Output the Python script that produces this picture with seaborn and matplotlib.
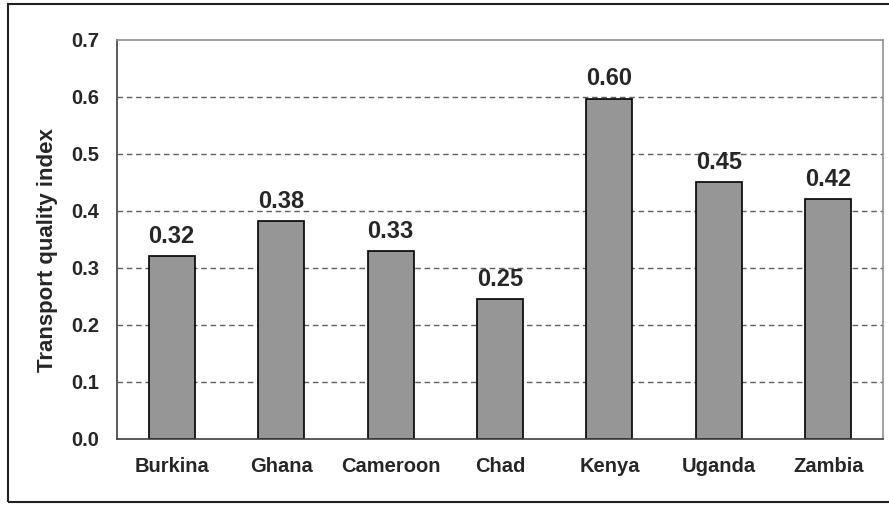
import numpy as np
import pandas as pd
import matplotlib
matplotlib.use("Agg")
import matplotlib.pyplot as plt
import seaborn as sns
from matplotlib.patches import Rectangle

# Data
countries = ["Burkina", "Ghana", "Cameroon", "Chad", "Kenya", "Uganda", "Zambia"]
values = [0.321, 0.382, 0.330, 0.245, 0.597, 0.451, 0.421]
value_labels = ["0.32", "0.38", "0.33", "0.25", "0.60", "0.45", "0.42"]
y_ticks = [0.0, 0.1, 0.2, 0.3, 0.4, 0.5, 0.6, 0.7]

df = pd.DataFrame({"country": countries, "index": values})

sns.set_style("white")
plt.rcParams["font.family"] = ["Liberation Sans", "DejaVu Sans"]
plt.rcParams["font.weight"] = "bold"

fig = plt.figure(figsize=(8.89, 5.05), dpi=100)
ax = fig.add_axes([0.1316, 0.1307, 0.8617, 0.7901])

sns.barplot(data=df, x="country", y="index", color="#969696",
            edgecolor="black", linewidth=1.2, width=0.42, saturation=1, ax=ax)

ax.bar_label(ax.containers[0], labels=value_labels, padding=6,
             fontsize=17, fontweight="bold")

# y axis
ax.set_ylim(0, 0.7)
ax.set_yticks(y_ticks)
ax.set_yticklabels([f"{t:.1f}" for t in y_ticks], fontsize=14.5, fontweight="bold")
ax.set_ylabel("Transport quality index", fontsize=16, fontweight="bold")
ax.yaxis.set_label_coords(-0.077, 0.474)
for t in y_ticks[1:-1]:
    ax.axhline(t, color="#606060", lw=1, ls=(0, (4, 2.7)), zorder=0)

# x axis: ticks between categories, labels at centres
n = len(countries)
ax.set_xlim(-0.5, n - 0.5)
ax.set_xticks(np.arange(-0.5, n, 1.0))
ax.set_xticklabels([])
ax.set_xticks(np.arange(n), minor=True)
ax.set_xticklabels(countries, minor=True, fontsize=14.5, fontweight="bold")
ax.tick_params(axis="x", which="minor", length=0, pad=13)
ax.tick_params(axis="x", which="major", direction="out", length=6, width=1, color="#404040")
ax.tick_params(axis="y", direction="out", length=6, width=1, color="#404040", pad=7)
ax.set_xlabel("")

for side in ["left", "bottom"]:
    ax.spines[side].set_color("#404040")
    ax.spines[side].set_linewidth(1.2)
for side in ["top", "right"]:
    ax.spines[side].set_visible(True)
    ax.spines[side].set_color("#909090")
    ax.spines[side].set_linewidth(1.2)

# outer chart frame
fig.patches.append(Rectangle((8 / 889, 3 / 505), 1.0, 498 / 505, transform=fig.transFigure,
                             fill=False, edgecolor="#202020", linewidth=1.5))

fig.savefig("out.png", dpi=100)
